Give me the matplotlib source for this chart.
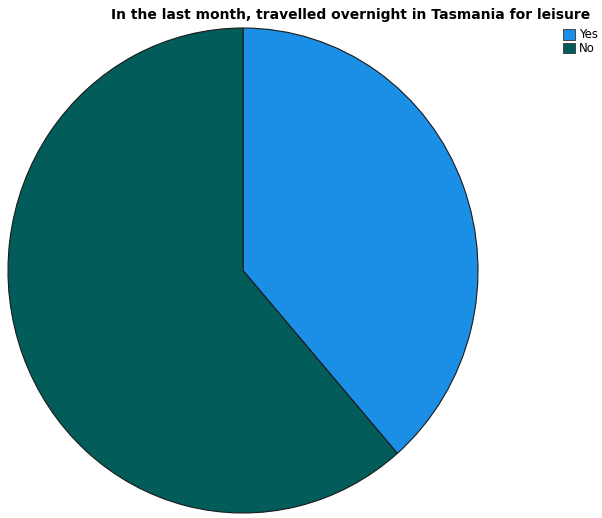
import matplotlib.pyplot as plt
from matplotlib.patches import Patch

labels = ["Yes", "No"]
shares = [38.6, 61.4]
colors = ["#1b8ee6", "#025c5a"]

fig = plt.figure(figsize=(6.02, 5.18), dpi=100)
# the reference pie is slightly taller than wide, so no equal aspect
ax = fig.add_axes([8 / 602, 5 / 518, 470 / 602, 485 / 518])
ax.pie(shares, colors=colors, startangle=90, counterclock=False,
       wedgeprops=dict(edgecolor="#1a1a1a", linewidth=0.8))
ax.set_xlim(-1.0, 1.0)
ax.set_ylim(-1.0, 1.0)
ax.set_aspect("auto")

fig.text(0.583, 0.972, "In the last month, travelled overnight in Tasmania for leisure",
         ha="center", va="center", fontsize=10, fontweight="bold")

handles = [Patch(facecolor=c, edgecolor="#333333", linewidth=0.6) for c in colors]
fig.legend(handles, labels, loc="upper left", bbox_to_anchor=(0.936, 0.945),
           frameon=False, fontsize=8.5, handlelength=1.0, handleheight=1.0,
           handletextpad=0.3, labelspacing=0.05, borderpad=0, borderaxespad=0)

fig.savefig("out.png", dpi=100)
